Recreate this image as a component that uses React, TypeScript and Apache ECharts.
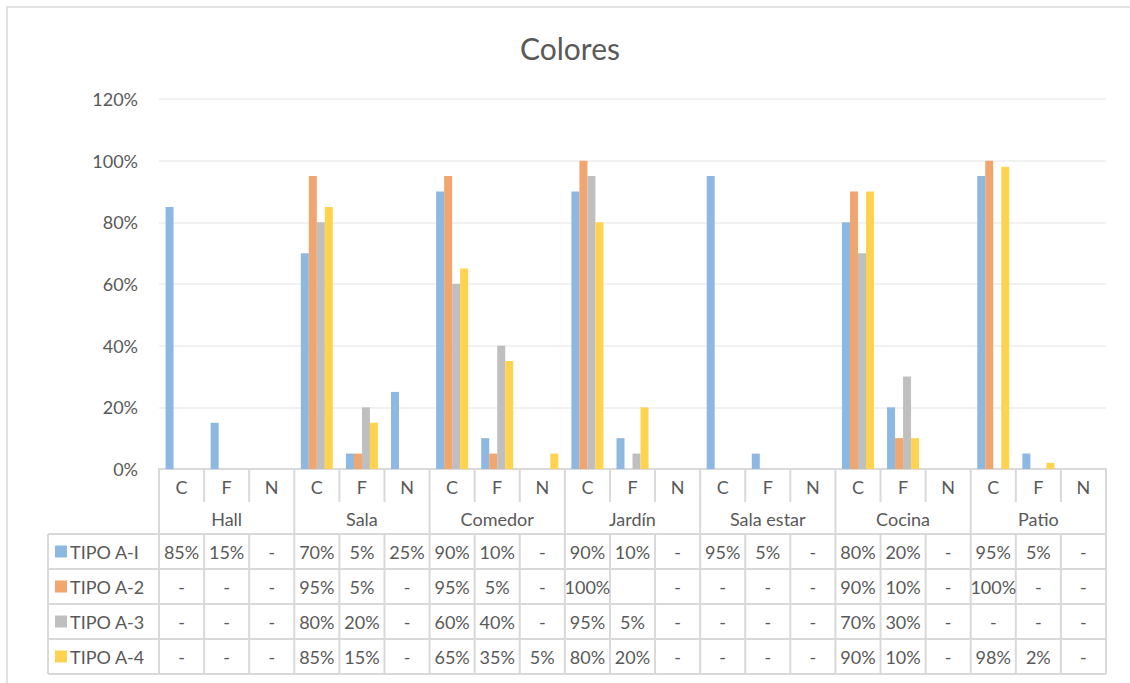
import React, { useEffect, useRef } from "react";
import * as echarts from "echarts";

const groups = ["Hall", "Sala", "Comedor", "Jardín", "Sala estar", "Cocina", "Patio"];
const subCategories = ["C", "F", "N"];
const seriesNames = ["TIPO A-I", "TIPO A-2", "TIPO A-3", "TIPO A-4"];
const tipoA1 = [85, 15, null, 70, 5, 25, 90, 10, null, 90, 10, null, 95, 5, null, 80, 20, null, 95, 5, null];
const tipoA2 = [null, null, null, 95, 5, null, 95, 5, null, 100, null, null, null, null, null, 90, 10, null, 100, null, null];
const tipoA3 = [null, null, null, 80, 20, null, 60, 40, null, 95, 5, null, null, null, null, 70, 30, null, null, null, null];
const tipoA4 = [null, null, null, 85, 15, null, 65, 35, 5, 80, 20, null, null, null, null, 90, 10, null, 98, 2, null];
// table cells shown empty instead of "-"
const blankCells = [{ series: 1, index: 10 }];
const yMin = 0;
const yMax = 120;
const yStep = 20;

const colors = ["#8DB8E1", "#F1A56F", "#BFBFBF", "#FFD34F"];
const textColor = "#595959";
const lineColor = "#D9D9D9";
const FONT = "Lato, 'Open Sans', sans-serif";

export default function App() {
  const ref = useRef<HTMLDivElement>(null);
  useEffect(() => {
    if (!ref.current) return;
    const chart = echarts.init(ref.current, null, { renderer: "svg" });
    const W = 1130;
    const H = 683;
    const gridLeft = 159;
    const gridRightX = 1106;
    const gridTop = 99;
    const axisY = 469;
    const catRowBottom = 502;
    const groupRowBottom = 534;
    const rowH = 35;
    const legendLeft = 48;

    const allSeries = [tipoA1, tipoA2, tipoA3, tipoA4];
    const categories: string[] = [];
    groups.forEach(() => subCategories.forEach((s) => categories.push(s)));
    const n = categories.length;
    const colW = (gridRightX - gridLeft) / n;
    const tableBottom = groupRowBottom + rowH * seriesNames.length;

    const graphics: any[] = [];
    const line = (x1: number, y1: number, x2: number, y2: number) =>
      graphics.push({
        type: "line",
        silent: true,
        shape: { x1, y1, x2, y2 },
        style: { stroke: lineColor, lineWidth: 2 },
      });
    const text = (x: number, y: number, t: string, align = "center") =>
      graphics.push({
        type: "text",
        silent: true,
        x,
        y,
        style: {
          text: t,
          fill: textColor,
          fontSize: 18,
          fontFamily: FONT,
          align,
          verticalAlign: "middle",
          textAlign: align,
          textVerticalAlign: "middle",
        },
      });

    // chart outer border
    graphics.push({
      type: "rect",
      silent: true,
      shape: { x: 7, y: 7, width: W + 20, height: H + 20 },
      style: { fill: "none", stroke: lineColor, lineWidth: 1.5 },
    });

    // vertical lines
    for (let i = 0; i <= n; i++) {
      const x = gridLeft + i * colW;
      if (i % 3 === 0) {
        line(x, axisY, x, tableBottom);
      } else {
        line(x, axisY, x, catRowBottom);
        line(x, groupRowBottom, x, tableBottom);
      }
    }
    line(legendLeft, groupRowBottom, legendLeft, tableBottom);
    for (let r = 0; r <= seriesNames.length; r++) {
      const y = groupRowBottom + r * rowH;
      line(legendLeft, y, gridRightX, y);
    }

    // group labels
    groups.forEach((g, gi) => {
      const cx = gridLeft + (gi * 3 + 1.5) * colW;
      text(cx, (catRowBottom + groupRowBottom) / 2 + 1, g);
    });

    // data table
    seriesNames.forEach((name, si) => {
      const cy = groupRowBottom + si * rowH + rowH / 2;
      graphics.push({
        type: "rect",
        silent: true,
        shape: { x: 55, y: cy - 6, width: 12, height: 12 },
        style: { fill: colors[si] },
      });
      text(70, cy, name, "left");
      allSeries[si].forEach((v, ci) => {
        const blank = blankCells.some((b) => b.series === si && b.index === ci);
        const label = blank ? "" : v === null ? "-" : `${v}%`;
        if (label) text(gridLeft + (ci + 0.5) * colW, cy, label);
      });
    });

    // title
    graphics.push({
      type: "text",
      silent: true,
      x: 570,
      y: 48,
      style: {
        text: "Colores",
        fill: textColor,
        fontSize: 30,
        fontFamily: FONT,
        align: "center",
        verticalAlign: "middle",
        textAlign: "center",
        textVerticalAlign: "middle",
      },
    });

    chart.setOption({
      animation: false,
      grid: {
        left: gridLeft,
        right: W - gridRightX,
        top: gridTop,
        bottom: H - axisY,
        containLabel: false,
      },
      xAxis: {
        type: "category",
        data: categories,
        axisTick: { show: false },
        axisLine: { lineStyle: { color: lineColor, width: 2 } },
        axisLabel: { interval: 0, fontSize: 18, color: textColor, fontFamily: FONT, margin: 9 },
      },
      yAxis: {
        type: "value",
        min: yMin,
        max: yMax,
        interval: yStep,
        axisLine: { show: false },
        axisTick: { show: false },
        axisLabel: { formatter: "{value}%", fontSize: 18, color: textColor, fontFamily: FONT, margin: 21 },
        splitLine: { lineStyle: { color: "#EEEEEE", width: 1.5 } },
      },
      series: seriesNames.map((name, si) => ({
        name,
        type: "bar",
        data: allSeries[si],
        barWidth: 8,
        barGap: "0%",
        itemStyle: { color: colors[si] },
      })),
      graphic: graphics,
    });
    return () => chart.dispose();
  }, []);
  return (
    <div
      ref={ref}
      style={{ position: "fixed", left: 0, top: 0, width: 1130, height: 683, background: "#fff" }}
    />
  );
}
